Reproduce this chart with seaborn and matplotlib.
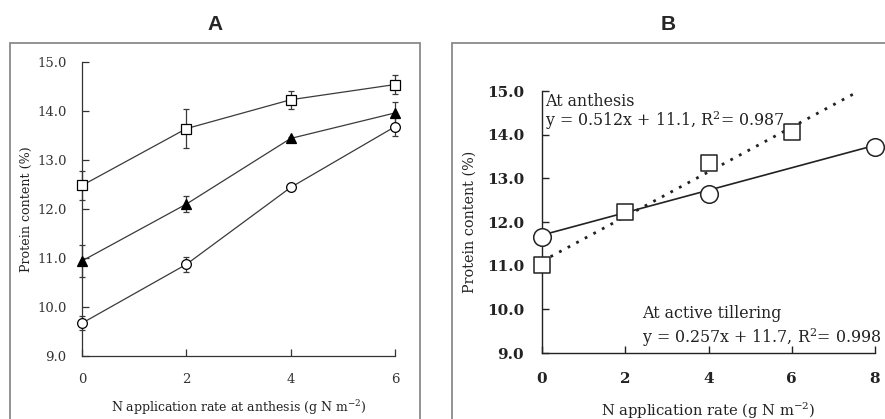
import numpy as np
import pandas as pd
import matplotlib
matplotlib.use("Agg")
import matplotlib.pyplot as plt
from matplotlib.patches import Rectangle
import seaborn as sns

# ---- Panel A data ----
x_a = [0, 2, 4, 6]
sq_a = [12.48, 13.64, 14.23, 14.54]
sq_a_err = [0.30, 0.40, 0.18, 0.19]
tri_a = [10.94, 12.10, 13.44, 13.96]
tri_a_err = [0.33, 0.17, 0.03, 0.23]
cir_a = [9.67, 10.87, 12.44, 13.68]
cir_a_err = [0.14, 0.16, 0.05, 0.20]
yticks_a = [9.0, 10.0, 11.0, 12.0, 13.0, 14.0, 15.0]
xticks_a = [0, 2, 4, 6]

# ---- Panel B data ----
x_b_sq = [0, 2, 4, 6]
sq_b = [11.02, 12.22, 13.36, 14.07]
x_b_ci = [0, 4, 8]
ci_b = [11.66, 12.63, 13.72]
fit_anthesis = [0.512, 11.1]
fit_tiller = [0.257, 11.7]
yticks_b = [9.0, 10.0, 11.0, 12.0, 13.0, 14.0, 15.0]
xticks_b = [0, 2, 4, 6, 8]

sns.set_theme(style="white")
plt.rcParams['font.family'] = ['DejaVu Serif']
plt.rcParams['mathtext.fontset'] = 'dejavuserif'

fig = plt.figure(figsize=(8.85, 4.19), dpi=100)
W, H = 885, 419

def fx(px): return px / W
def fy(py): return 1 - py / H

# frames
fig.patches.append(Rectangle((fx(10), fy(430)), fx(420) - fx(10), fy(43) - fy(430),
                             transform=fig.transFigure, fill=False, ec="#8a8a8a", lw=1.3, clip_on=False))
fig.patches.append(Rectangle((fx(452), fy(430)), fx(895) - fx(452), fy(43) - fy(430),
                             transform=fig.transFigure, fill=False, ec="#8a8a8a", lw=1.3, clip_on=False))
fig.text(fx(215), fy(25), "A", ha="center", va="center", fontsize=15, fontweight="bold",
         family="Liberation Sans")
fig.text(fx(668), fy(25), "B", ha="center", va="center", fontsize=15, fontweight="bold",
         family="Liberation Sans")

# ---- Panel A ----
axA = fig.add_axes([fx(82), fy(356), fx(395) - fx(82), fy(62) - fy(356)])
col = "#3a3a3a"
for y, e, m, fc in [(sq_a, sq_a_err, "s", "white"), (tri_a, tri_a_err, "^", "black"),
                    (cir_a, cir_a_err, "o", "white")]:
    axA.errorbar(x_a, y, yerr=e, fmt="none", ecolor=col, elinewidth=0.9, capsize=2.3,
                 capthick=0.9, clip_on=False, zorder=2)
    df = pd.DataFrame({"x": x_a, "y": y})
    sns.lineplot(data=df, x="x", y="y", ax=axA, color=col, lw=0.9, marker=m, markersize=7,
                 markerfacecolor=fc, markeredgecolor="black", markeredgewidth=0.9,
                 clip_on=False, zorder=3)
axA.set_xlim(0, 6)
axA.set_ylim(9, 15)
axA.set_xticks(xticks_a)
axA.set_yticks(yticks_a)
axA.set_yticklabels([f"{v:.1f}" for v in yticks_a])
for s in ["top", "right"]:
    axA.spines[s].set_visible(False)
for s in ["left", "bottom"]:
    axA.spines[s].set_color("#333333")
    axA.spines[s].set_linewidth(0.9)
axA.tick_params(direction="in", length=5, width=0.9, color="#333333", labelsize=9.5,
                labelcolor="#333333", left=True, bottom=True)
axA.tick_params(axis="y", pad=11)
axA.tick_params(axis="x", pad=12)
axA.set_xlabel("N application rate at anthesis (g N m$^{-2}$)", fontsize=9.0, labelpad=9,
               color="#222222")
axA.set_ylabel("Protein content (%)", fontsize=9.1, labelpad=3, color="#222222")

# ---- Panel B ----
axB = fig.add_axes([fx(542), fy(353), fx(875) - fx(542), fy(91) - fy(353)])
xs1 = np.array([0, 7.6])
xs2 = np.array([0, 8])
dfl1 = pd.DataFrame({"x": xs1, "y": fit_anthesis[0] * xs1 + fit_anthesis[1]})
dfl2 = pd.DataFrame({"x": xs2, "y": fit_tiller[0] * xs2 + fit_tiller[1]})
sns.lineplot(data=dfl1, x="x", y="y", ax=axB, color="#222222", lw=2.0,
             dashes=False, linestyle=(0, (1, 2.5)), clip_on=False, zorder=2)
sns.lineplot(data=dfl2, x="x", y="y", ax=axB, color="#222222", lw=1.2, clip_on=False, zorder=2)
sns.scatterplot(x=x_b_sq, y=sq_b, ax=axB, marker="s", s=130, facecolor="white",
                edgecolor="#222222", linewidth=1.1, clip_on=False, zorder=3)
sns.scatterplot(x=x_b_ci, y=ci_b, ax=axB, marker="o", s=160, facecolor="white",
                edgecolor="#222222", linewidth=1.1, clip_on=False, zorder=3)
axB.set_xlim(0, 8)
axB.set_ylim(9, 15)
axB.set_xticks(xticks_b)
axB.set_yticks(yticks_b)
axB.set_yticklabels([f"{v:.1f}" for v in yticks_b])
for s in ["top", "right"]:
    axB.spines[s].set_visible(False)
for s in ["left", "bottom"]:
    axB.spines[s].set_color("#222222")
    axB.spines[s].set_linewidth(1.0)
axB.tick_params(direction="in", length=5, width=1.0, color="#222222", labelsize=11,
                labelcolor="#222222", left=True, bottom=True)
axB.tick_params(axis="y", pad=13)
axB.tick_params(axis="x", pad=14)
for t in axB.get_xticklabels() + axB.get_yticklabels():
    t.set_fontweight("bold")
axB.set_xlabel("N application rate (g N m$^{-2}$)", fontsize=10.6, labelpad=10, color="#222222")
axB.set_ylabel("Protein content (%)", fontsize=10.4, labelpad=7, color="#222222")

axB.text(0.08, 14.75, "At anthesis", fontsize=11.4, va="center", ha="left", color="#222222")
axB.text(0.08, 14.31, "y = 0.512x + 11.1, R$^{2}$= 0.987", fontsize=11.4, va="center",
         ha="left", color="#222222")
axB.text(2.4, 9.91, "At active tillering", fontsize=11.4, va="center", ha="left", color="#222222")
axB.text(2.4, 9.35, "y = 0.257x + 11.7, R$^{2}$= 0.998", fontsize=11.4, va="center",
         ha="left", color="#222222", clip_on=False)

fig.savefig("out.png", dpi=100)
